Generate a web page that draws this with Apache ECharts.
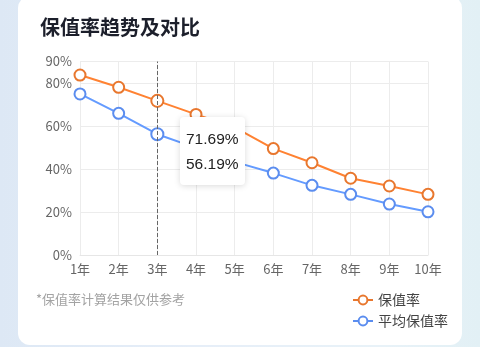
<!DOCTYPE html>
<html><head><meta charset="utf-8">
<script src="https://cdn.jsdelivr.net/npm/echarts@6/dist/echarts.min.js"></script>
<style>
html,body{margin:0;padding:0;width:480px;height:347px;overflow:hidden;}
body{background:linear-gradient(90deg,#dde8f5 0%,#e6eef8 40%,#e8f2f8 80%,#e2f0f5 100%);}
#card{position:absolute;left:18px;top:-4px;width:444px;height:349px;background:#fff;border-radius:12px;}
#c{position:absolute;left:0;top:0;width:480px;height:347px;}
</style></head>
<body><div id="card"></div><div id="c"></div>
<script>
const categories = ['1年','2年','3年','4年','5年','6年','7年','8年','9年','10年'];
const rateValues = [83.7, 78.0, 71.69, 65.4, 59.4, 49.5, 42.9, 35.7, 32.1, 28.2];
const avgValues  = [74.9, 65.9, 56.19, 49.8, 43.3, 38.1, 32.4, 28.2, 23.7, 20.1];
const seriesNames = ['保值率','平均保值率'];
const titleText = '保值率趋势及对比';
const noteText = '*保值率计算结果仅供参考';
const font = '"Noto Sans CJK SC", sans-serif';
const numFont = '"Liberation Sans", "Noto Sans CJK SC", sans-serif';

const chart = echarts.init(document.getElementById('c'), null, {renderer:'canvas'});
chart.setOption({
  backgroundColor: 'transparent',
  animation: false,
  textStyle: {fontFamily: font},
  title: {text: titleText, left: 35, top: 12, textStyle: {fontSize: 20, fontWeight: 'bold', color: '#1c1f2b', fontFamily: font}},
  graphic: [{type:'text', left: 36, top: 293, style:{text: noteText, fill:'#a3a3a3', fontSize: 13, fontFamily: font}}],
  legend: {
    orient: 'vertical', left: 352, top: 293, padding: 0, itemGap: 7, itemWidth: 20, itemHeight: 11,
    textStyle: {fontSize: 14, color: '#444', fontFamily: font},
    data: seriesNames
  },
  grid: {left: 80, right: 52, top: 61.5, bottom: 92},
  tooltip: {
    trigger: 'axis', alwaysShowContent: true, position: [180, 117],
    backgroundColor: '#fff', borderColor: '#fff', borderWidth: 0, padding: [9, 6],
    extraCssText: 'box-shadow:0 1px 6px rgba(0,0,0,0.15);border-radius:4px;',
    textStyle: {fontSize: 15.5, color: '#222', fontFamily: numFont},
    axisPointer: {type: 'line', lineStyle: {type: 'dashed', color: '#666', width: 1}},
    formatter: function(ps){ return ps.map(p => '<div style="line-height:25px">' + p.value.toFixed(2) + '%</div>').join(''); }
  },
  xAxis: {
    type: 'category', data: categories, boundaryGap: false,
    axisLine: {show: true, lineStyle: {color: '#e6e6e6'}},
    axisTick: {show: false},
    axisLabel: {color: '#666', fontSize: 13, margin: 8, fontFamily: font},
    splitLine: {show: true, lineStyle: {color: '#ececec'}}
  },
  yAxis: {
    type: 'value', min: 0, max: 90, interval: 20,
    axisLine: {show: true, lineStyle: {color: '#ececec'}},
    axisTick: {show: false},
    axisLabel: {color: '#666', fontSize: 13, margin: 8, formatter: '{value}%', fontFamily: font},
    splitLine: {show: true, lineStyle: {color: '#ececec'}}
  },
  series: [
    {name: seriesNames[0], type: 'line', data: rateValues, symbol: 'emptyCircle', symbolSize: 11,
     itemStyle: {color: '#e8772e', borderWidth: 2}, lineStyle: {width: 2, color: '#e8772e'}},
    {name: seriesNames[1], type: 'line', data: avgValues, symbol: 'emptyCircle', symbolSize: 11,
     itemStyle: {color: '#5b8def', borderWidth: 2}, lineStyle: {width: 2, color: '#5b8def'}}
  ]
});
chart.dispatchAction({type: 'showTip', seriesIndex: 0, dataIndex: 2});
</script></body></html>
